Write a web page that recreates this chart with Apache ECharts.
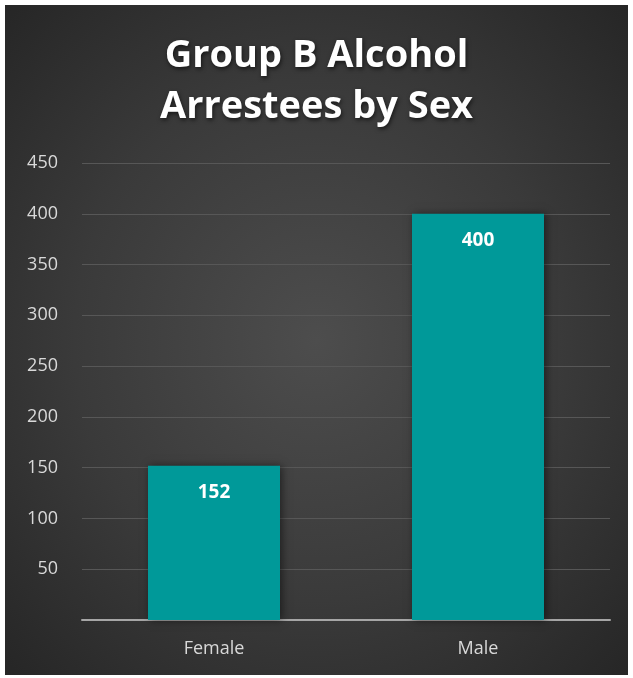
<!DOCTYPE html>
<html>
<head>
<meta charset="utf-8">
<script src="https://cdn.jsdelivr.net/npm/echarts@6/dist/echarts.min.js"></script>
<style>
  html, body { margin: 0; padding: 0; background: #fff; }
  #chart {
    position: absolute; left: 5px; top: 5px; width: 623px; height: 670px;
    background: radial-gradient(ellipse at 50% 50%, #4d4d4d 0%, #3a3a3a 55%, #262626 100%);
  }
</style>
</head>
<body>
<div id="chart"></div>
<script>
const categories = ['Female', 'Male']
const arrestees = [152, 400]
const yTicks = { min: 0, max: 450, interval: 50 }

let myChart = echarts.init(document.getElementById('chart'))
let option = {
  backgroundColor: 'transparent',
  title: {
    text: 'Group B Alcohol\nArrestees by Sex',
    left: 'center',
    top: 21,
    textStyle: {
      color: '#ffffff',
      fontFamily: 'Open Sans',
      fontWeight: 'bold',
      fontSize: 38,
      lineHeight: 51,
      textShadowColor: 'rgba(0,0,0,0.6)',
      textShadowBlur: 4,
      textShadowOffsetX: 1,
      textShadowOffsetY: 2
    }
  },
  grid: { left: 77, right: 18, top: 158, bottom: 55 },
  xAxis: {
    type: 'category',
    data: categories,
    axisLine: { lineStyle: { color: '#a6a6a6', width: 2 } },
    axisTick: { show: false },
    axisLabel: { color: '#d9d9d9', fontSize: 18, fontFamily: 'Open Sans', margin: 20 }
  },
  yAxis: {
    type: 'value',
    min: yTicks.min,
    max: yTicks.max,
    interval: yTicks.interval,
    axisLine: { show: false },
    axisTick: { show: false },
    splitLine: { lineStyle: { color: '#575757', width: 1 } },
    axisLabel: {
      color: '#d9d9d9', fontSize: 18, fontFamily: 'Open Sans', margin: 24,
      formatter: v => (v === 0 ? '' : v)
    }
  },
  series: [
    {
      type: 'bar',
      data: arrestees,
      barWidth: '50%',
      itemStyle: {
        color: '#009999',
        shadowColor: 'rgba(0,0,0,0.5)',
        shadowBlur: 8,
        shadowOffsetX: 2,
        shadowOffsetY: 0
      },
      label: {
        show: true,
        position: 'insideTop',
        distance: 17,
        color: '#ffffff',
        fontWeight: 'bold',
        fontSize: 19,
        fontFamily: 'Open Sans'
      }
    }
  ]
}
myChart.setOption(option)
</script>
</body>
</html>
